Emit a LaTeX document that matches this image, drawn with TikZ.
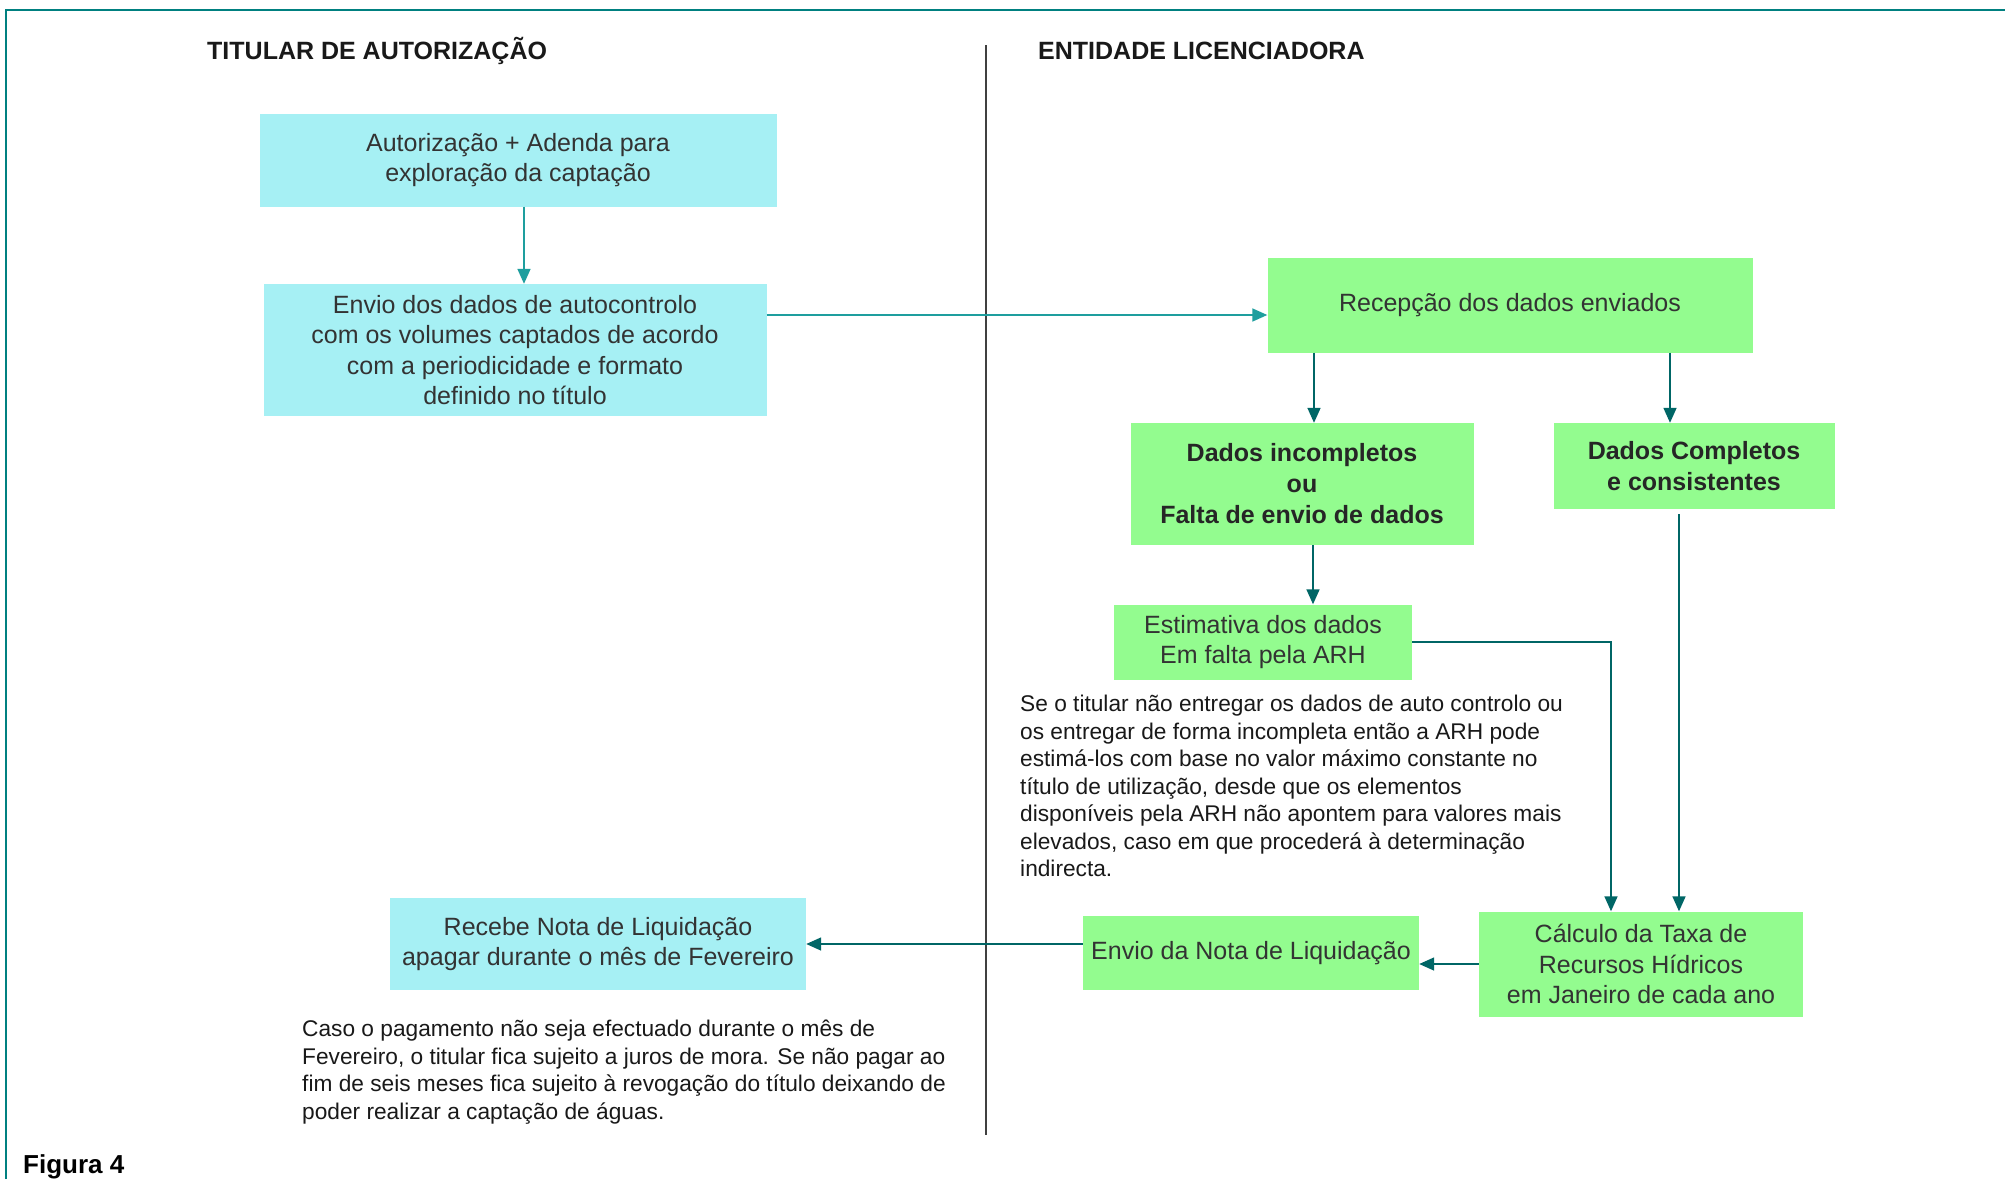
\documentclass[tikz,border=0pt]{standalone}
\usepackage{fontspec}
\setmainfont{Liberation Sans}
\usetikzlibrary{arrows.meta,calc,positioning}
\definecolor{boxcyan}{HTML}{A6F0F4}
\definecolor{boxgreen}{HTML}{93FC8F}
\definecolor{lineteal}{HTML}{1E9E9E}
\definecolor{darkteal}{HTML}{006666}
\definecolor{frameteal}{HTML}{008080}
\definecolor{boxtext}{HTML}{333333}

\begin{document}
\begin{tikzpicture}[x=1pt,y=-1pt,
    cyanbox/.style={rectangle,fill=boxcyan,text=boxtext,align=center,inner sep=0pt,font=\fontsize{25}{30.5}\selectfont},
    greenbox/.style={rectangle,fill=boxgreen,text=boxtext,align=center,inner sep=0pt,font=\fontsize{25}{30.5}\selectfont},
    boldbox/.style={greenbox,text=black!85,font=\fontsize{25}{31}\selectfont\bfseries},
    note/.style={anchor=north west,align=left,inner sep=0pt,text=black!90,font=\fontsize{22.7}{27.5}\selectfont},
    heading/.style={anchor=west,inner sep=0pt,text=black!90,font=\fontsize{25}{30}\selectfont\bfseries},
    arrlight/.style={draw=lineteal,line width=1.6pt,-{Triangle[length=15pt,width=13pt]}},
    arrdark/.style={draw=darkteal,line width=1.6pt,-{Triangle[length=15pt,width=13pt]}}]
    \useasboundingbox[fill=white] (0,0) rectangle (2005,1179);
    \draw[frameteal,line width=2.5pt] (6,1179) -- (6,10) -- (2005,10);
    \draw[black!75,line width=1.6pt] (986,45) -- (986,1135);
    \node[heading] (t1) at (207,51) {TITULAR DE AUTORIZAÇÃO};
    \node[heading] (t2) at (1038,51) {ENTIDADE LICENCIADORA};
    % titular
    \node[cyanbox,minimum width=517pt,minimum height=93pt] (a1) at (518,160) {Autorização + Adenda para\\exploração da captação};
    \node[cyanbox,minimum width=503pt,minimum height=132pt] (a2) at (515,350) {Envio dos dados de autocontrolo\\com os volumes captados de acordo\\com a periodicidade e formato\\definido no título};
    \node[cyanbox,minimum width=416pt,minimum height=92pt] (n2) at (598,944) {Recebe Nota de Liquidação\\apagar durante o mês de Fevereiro};
    \node[note] (p2) at (302,1020) {Caso o pagamento não seja efectuado durante o mês de\\Fevereiro, o titular fica sujeito a juros de mora. Se não pagar ao\\fim de seis meses fica sujeito à revogação do título deixando de\\poder realizar a captação de águas.};
    % entidade
    \node[greenbox,minimum width=485pt,minimum height=95pt] (r1) at (1510,305) {Recepção dos dados enviados};
    \node[boldbox,minimum width=343pt,minimum height=122pt] (d1) at (1302,484) {Dados incompletos\\ou\\Falta de envio de dados};
    \node[boldbox,minimum width=281pt,minimum height=86pt] (d2) at (1694,466) {Dados Completos\\e consistentes};
    \node[greenbox,minimum width=298pt,minimum height=75pt] (e1) at (1263,642) {Estimativa dos dados\\Em falta pela ARH};
    \node[note] (p1) at (1020,695) {Se o titular não entregar os dados de auto controlo ou\\os entregar de forma incompleta então a ARH pode\\estimá-los com base no valor máximo constante no\\título de utilização, desde que os elementos\\disponíveis pela ARH não apontem para valores mais\\elevados, caso em que procederá à determinação\\indirecta.};
    \node[greenbox,minimum width=324pt,minimum height=105pt] (c1) at (1641,964) {Cálculo da Taxa de\\Recursos Hídricos\\em Janeiro de cada ano};
    \node[greenbox,minimum width=336pt,minimum height=74pt] (n1) at (1251,953) {Envio da Nota de Liquidação};
    \node[anchor=west,inner sep=0pt,font=\fontsize{26}{30}\selectfont\bfseries] (f1) at (23,1167) {Figura 4};
    % ligacoes
    \coordinate (k0) at ($(a1.south)+(6,0)$);
    \coordinate (k1) at ($(r1.west)+(0,10)$);
    \coordinate (k2) at ($(d1.north)+(12,0)$);
    \coordinate (k3) at ($(d2.north)+(-24,0)$);
    \coordinate (k4) at ($(d1.south)+(11,0)$);
    \coordinate (k5) at ($(c1.north)+(-30,0)$);
    \coordinate (k6) at ($(d2.south)+(-15,5)$);
    \draw[arrlight] (k0) -- (k0 |- a2.north);
    \draw[arrlight] (a2.east |- k1) -- (k1);
    \draw[arrdark] (k2 |- r1.south) -- (k2);
    \draw[arrdark] (k3 |- r1.south) -- (k3);
    \draw[arrdark] (k4) -- (k4 |- e1.north);
    \draw[arrdark] (e1.east) -| (k5);
    \draw[arrdark] (k6) -- (k6 |- c1.north);
    \draw[arrdark] (c1.west) -- (c1.west -| n1.east);
    \draw[arrdark] (n1.west |- n2.east) -- (n2.east);
\end{tikzpicture}
\end{document}
